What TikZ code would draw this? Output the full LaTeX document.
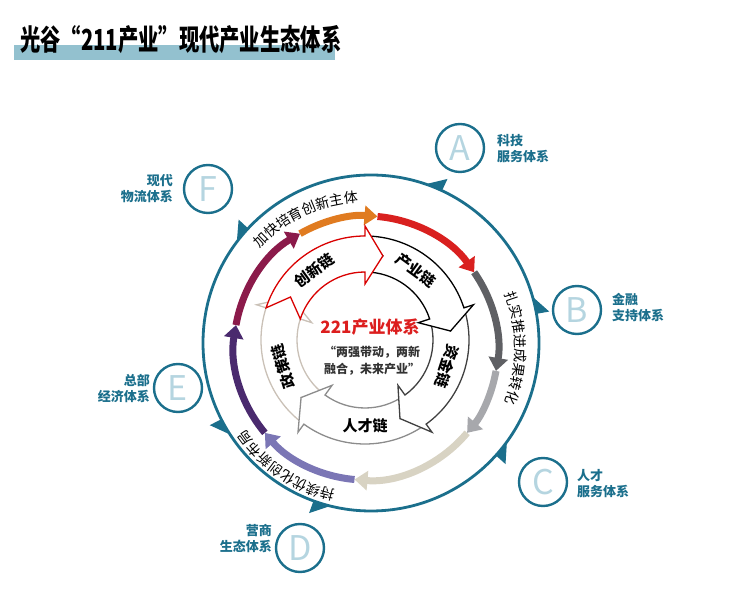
\documentclass[tikz,border=0pt]{standalone}
\usepackage{fontspec}
\setmainfont{Noto Sans CJK SC}
\usetikzlibrary{arrows.meta,decorations.text,calc}
\definecolor{teal1}{HTML}{1B6F8C}
\definecolor{letterc}{HTML}{B5D5E0}
\definecolor{barc}{HTML}{93C1CF}
\tikzset{
  marker/.style={circle,draw=teal1,line width=2.4pt,minimum size=48pt,inner sep=0pt,text=letterc,font=\fontsize{34}{34}\selectfont},
  lbl/.style={text=teal1,font=\fontsize{13}{16}\selectfont\bfseries,inner sep=0pt},
  seg/.style={line width=7pt,-{Triangle[length=13pt,width=19pt]}},
  chain/.style={line width=1.3pt,fill=white,line join=miter},
  chaintext/.style={font=\fontsize{15}{15}\selectfont\bfseries},
  tri/.style={fill=teal1,draw=none}
}
\newcommand\chainarrow[4]{% tail, bodyend, tip, color
  \draw[chain,draw=#4] (#1:104) arc[start angle=#1,end angle=#2,radius=104] -- (#2:114) -- (#3:86) -- (#2:56) -- (#2:68) arc[start angle=#2,end angle=#1,radius=68] -- ($(#1-12:86)$) -- cycle;}
\newcommand\outtri[1]{\fill[tri] (#1:168) -- (#1+6:168) -- (#1:181) -- cycle;}
\begin{document}
\begin{tikzpicture}[x=1pt,y=1pt]
\useasboundingbox (0,0) rectangle (744,613);
% title
\fill[barc] (14,553) rectangle (335,568);
\node[anchor=west,font=\fontsize{29}{29}\selectfont\bfseries,inner sep=0pt,xscale=0.70] (title) at (20,573) {光谷“211产业”现代产业生态体系};
% outer circle
\begin{scope}[shift={(371,270)}]
\draw[teal1,line width=2.8pt] (0,0) circle[radius=168];
\outtri{65}\outtri{10}\outtri{-42}\outtri{-110}\outtri{-153}\outtri{137}
\end{scope}
% ring
\begin{scope}[shift={(366,265)}]
\draw[seg,color={rgb,255:red,74;green,42;blue,110}] (220:132) arc[start angle=220,end angle=170,radius=132];
\draw[seg,color={rgb,255:red,139;green,26;blue,74}] (170:132) arc[start angle=170,end angle=120,radius=132];
\draw[seg,color={rgb,255:red,224;green,123;blue,32}] (120:132) arc[start angle=120,end angle=85,radius=132];
\draw[seg,color={rgb,255:red,217;green,32;blue,31}] (85:132) arc[start angle=85,end angle=35,radius=132];
\draw[seg,color={rgb,255:red,95;green,96;blue,100}] (35:132) arc[start angle=35,end angle=-10,radius=132];
\draw[seg,color={rgb,255:red,167;green,168;blue,172}] (-10:132) arc[start angle=-10,end angle=-40,radius=132];
\draw[seg,color={rgb,255:red,216;green,211;blue,195}] (-40:132) arc[start angle=-40,end angle=-95,radius=132];
\draw[seg,color={rgb,255:red,123;green,118;blue,181}] (-95:132) arc[start angle=-95,end angle=-140,radius=132];
\path[decorate,decoration={text along path,text align=center,text={|\fontsize{14}{14}\selectfont|加快培育创新主体}}] (152:146) arc[start angle=152,end angle=78,radius=146];
\path[decorate,decoration={text along path,text align=center,text={|\fontsize{14}{14}\selectfont|扎实推进成果转化}}] (38:149) arc[start angle=38,end angle=-38,radius=149];
\path[decorate,decoration={text along path,text align=center,text={|\fontsize{14}{14}\selectfont|持续优化创新布局}}] (-88:146) arc[start angle=-88,end angle=-160,radius=146];
\end{scope}
% inner chain
\begin{scope}[shift={(365,273)}]
\chainarrow{-126}{-198}{-210}{black!20!white!85!brown}
\chainarrow{-54}{-126}{-138}{black!45}
\chainarrow{18}{-54}{-66}{black!75}
\chainarrow{90}{18}{6}{black}
\chainarrow{162}{90}{78}{red!85!black}
\node[chaintext,rotate=36] (cx) at (126:86) {创新链};
\node[chaintext,rotate=-36] (cy) at (54:86) {产业链};
\node[chaintext,rotate=-108] (zj) at (-18:86) {资金链};
\node[chaintext,rotate=0] (rc) at (-90:86) {人才链};
\node[chaintext,rotate=108] (zc) at (198:86) {政策链};
\end{scope}
\node[text={rgb,255:red,220;green,30;blue,30},font=\fontsize{17}{17}\selectfont\bfseries] (sys) at (370,286) {221产业体系};
\node[align=center,font=\fontsize{12}{17}\selectfont\bfseries,text=black!80] (quote) at (372,252) {“两强带动，两新\\融合，未来产业”};
% markers
\node[marker] (A) at (460,465) {A};
\node[marker] (B) at (577,303) {B};
\node[marker] (C) at (543,131) {C};
\node[marker] (D) at (300,65) {D};
\node[marker] (E) at (178,225) {E};
\node[marker] (F) at (208,424) {F};
\node[lbl,anchor=west,align=left] (At) at (497,464) {科技\\服务体系};
\node[lbl,anchor=west,align=left] (Bt) at (612,306) {金融\\支持体系};
\node[lbl,anchor=west,align=left] (Ct) at (577,129) {人才\\服务体系};
\node[lbl,anchor=east,align=right] (Dt) at (272,74) {营商\\生态体系};
\node[lbl,anchor=east,align=right] (Et) at (150,224) {总部\\经济体系};
\node[lbl,anchor=east,align=right] (Ft) at (173,424) {现代\\物流体系};
\end{tikzpicture}
\end{document}
